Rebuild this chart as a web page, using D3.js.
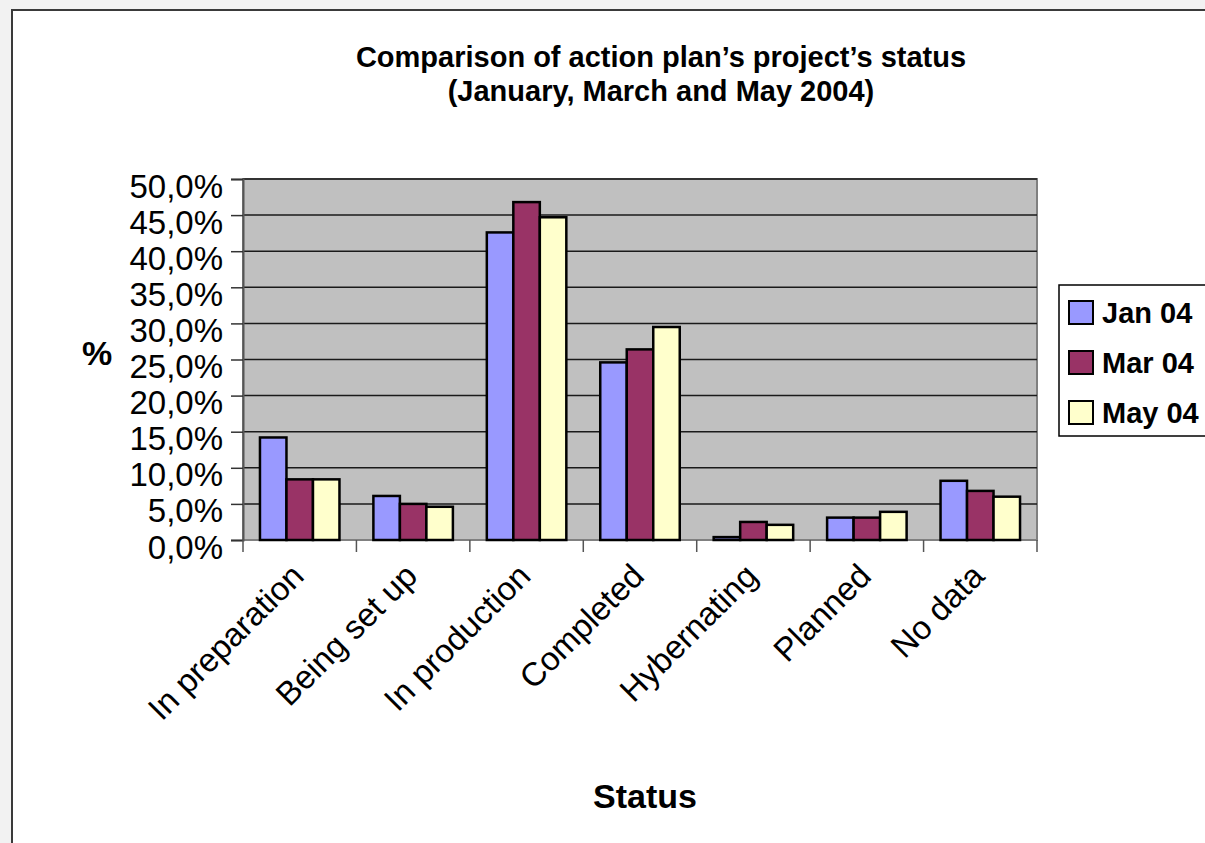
<!DOCTYPE html>
<html>
<head>
<meta charset="utf-8">
<script src="https://cdn.jsdelivr.net/npm/d3@7"></script>
<style>
  html, body { margin: 0; padding: 0; background: #f2f2f2; }
  svg { display: block; font-family: "Liberation Sans", Arial, sans-serif; }
</style>
</head>
<body>
<script>
"use strict"

// categories and series
const categories = ["In preparation", "Being set up", "In production", "Completed", "Hybernating", "Planned", "No data"]
const series     = ["Jan 04", "Mar 04", "May 04"]
const colors     = ["#9999ff", "#993366", "#ffffcc"]

// values, one array per series (fraction of projects)
const jan04 = [0.142, 0.061, 0.426, 0.246, 0.004, 0.031, 0.082]
const mar04 = [0.084, 0.050, 0.468, 0.264, 0.025, 0.031, 0.068]
const may04 = [0.084, 0.046, 0.447, 0.295, 0.021, 0.039, 0.060]
const values = [jan04, mar04, may04]

const yTicks = [0, 0.05, 0.1, 0.15, 0.2, 0.25, 0.3, 0.35, 0.4, 0.45, 0.5]

const titleLines = ["Comparison of action plan\u2019s project\u2019s status", "(January, March and May 2004)"]

// comma decimal percent format, e.g. 50,0%
const locale = d3.formatLocale({ decimal : ",", thousands : ".", grouping : [3], currency : ["", ""] })
const pct    = locale.format(".1%")

// SVG area
const area = [1205, 843]
const plot = { left : 243, top : 179, right : 1037, bottom : 540 }

const translate = (x, y) => `translate(${x} ${y})`

const x0 = d3.scaleBand().domain(categories).range([plot.left, plot.right])
const x1 = d3.scaleBand().domain(series).range([0, x0.bandwidth()]).paddingOuter(0.64)
const y  = d3.scaleLinear().domain([0, 0.5]).range([plot.bottom, plot.top])

const svg = d3.select("body").append("svg")
  .attr("width", area[0])
  .attr("height", area[1])

// chart frame
svg.append("rect")
  .attr("x", 12).attr("y", 10)
  .attr("width", area[0]).attr("height", area[1])
  .attr("fill", "#fff").attr("stroke", "#3a3a3a").attr("stroke-width", 2)

// title
svg.append("text")
  .attr("x", 661).attr("y", 67)
  .attr("text-anchor", "middle")
  .style("font-size", "29px").style("font-weight", "bold")
  .selectAll("tspan")
  .data(titleLines)
  .join("tspan")
  .attr("x", 661)
  .attr("dy", (d, i) => i ? 34 : 0)
  .text(d => d)

// plot area
svg.append("rect")
  .attr("x", plot.left).attr("y", plot.top)
  .attr("width", plot.right - plot.left).attr("height", plot.bottom - plot.top)
  .attr("fill", "#c0c0c0").attr("stroke", "#808080").attr("stroke-width", 2)

// gridlines
svg.append("g")
  .selectAll("line")
  .data(yTicks.slice(1))
  .join("line")
  .attr("x1", plot.left).attr("x2", plot.right)
  .attr("y1", d => y(d)).attr("y2", d => y(d))
  .attr("stroke", "#1a1a1a").attr("stroke-width", 1.5)

// bars
const groups = svg.append("g")
  .selectAll("g")
  .data(categories)
  .join("g")
  .attr("transform", d => translate(x0(d), 0))

groups.selectAll("rect")
  .data((c, ci) => series.map((s, si) => ({ s, si, v : values[si][ci] })))
  .join("rect")
  .attr("x", d => x1(d.s))
  .attr("y", d => y(d.v))
  .attr("width", x1.bandwidth())
  .attr("height", d => y(0) - y(d.v))
  .attr("fill", d => colors[d.si])
  .attr("stroke", "#000").attr("stroke-width", 2.5)

// y axis
const yAxis = svg.append("g")
  .attr("transform", translate(plot.left, 0))
  .call(d3.axisLeft(y).tickValues(yTicks).tickFormat(pct).tickSize(12).tickPadding(8))
yAxis.select(".domain").attr("stroke", "#555").attr("stroke-width", 2)
yAxis.selectAll(".tick line").attr("stroke", "#333").attr("stroke-width", 1.5)
yAxis.selectAll(".tick text")
  .attr("dy", 18)
  .style("font-size", "33px").style("font-family", "Liberation Sans, Arial, sans-serif")
  .attr("fill", "#000")

// x axis ticks on category boundaries
svg.append("g")
  .selectAll("line")
  .data(categories.map(c => x0(c)).concat([plot.right]))
  .join("line")
  .attr("x1", d => d).attr("x2", d => d)
  .attr("y1", plot.bottom).attr("y2", plot.bottom + 12)
  .attr("stroke", "#555").attr("stroke-width", 1.5)

// rotated category labels
svg.append("g")
  .selectAll("text")
  .data(categories)
  .join("text")
  .attr("transform", d => translate(x0(d) + x0.bandwidth() / 2 + 6, plot.bottom + 38) + " rotate(-45)")
  .attr("text-anchor", "end")
  .style("font-size", "33px")
  .text(d => d)

// axis titles
svg.append("text")
  .attr("x", 97).attr("y", 365)
  .attr("text-anchor", "middle")
  .style("font-size", "34px").style("font-weight", "bold")
  .text("%")

svg.append("text")
  .attr("x", 645).attr("y", 808)
  .attr("text-anchor", "middle")
  .style("font-size", "34px").style("font-weight", "bold")
  .text("Status")

// legend
const legend = svg.append("g").attr("transform", translate(1059, 285))
legend.append("rect")
  .attr("width", 170).attr("height", 151)
  .attr("fill", "#fff").attr("stroke", "#000").attr("stroke-width", 1.5)

const items = legend.selectAll("g.item")
  .data(series)
  .join("g")
  .attr("class", "item")
  .attr("transform", (d, i) => translate(10, 16 + i * 50))

items.append("rect")
  .attr("width", 24).attr("height", 23)
  .attr("fill", (d, i) => colors[i])
  .attr("stroke", "#000").attr("stroke-width", 2)

items.append("text")
  .attr("x", 33).attr("y", 22)
  .style("font-size", "29px").style("font-weight", "bold")
  .text(d => d)
</script>
</body>
</html>
